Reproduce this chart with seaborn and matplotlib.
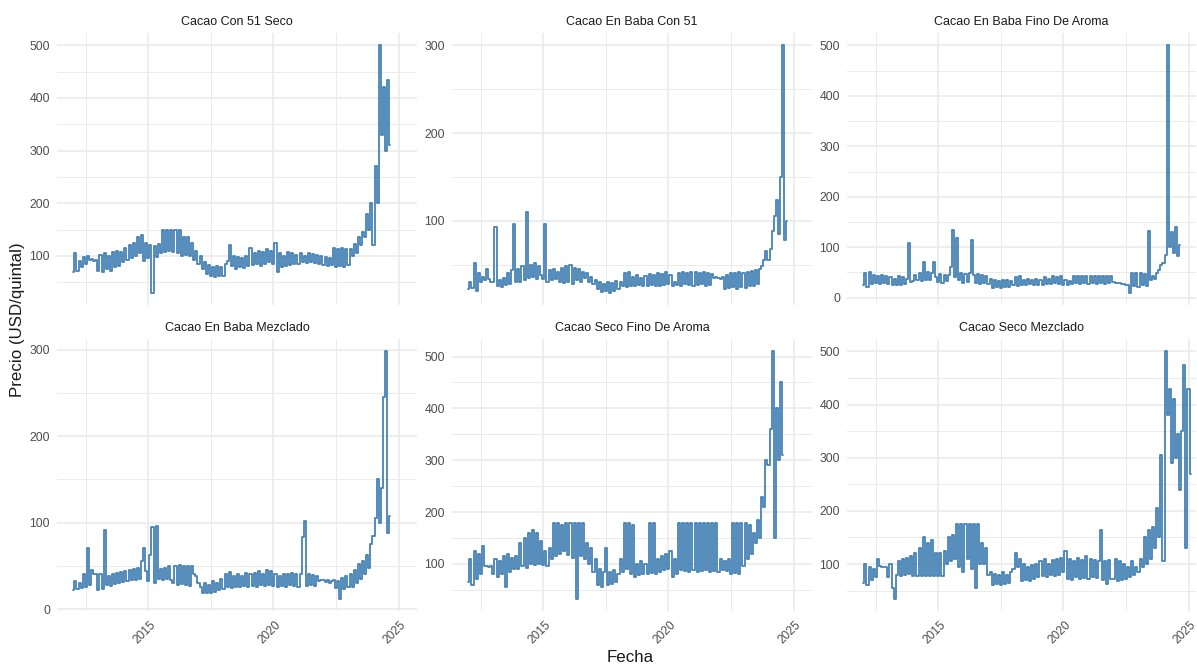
import numpy as np
import pandas as pd
import matplotlib
matplotlib.use("Agg")
import matplotlib.pyplot as plt
import matplotlib.dates as mdates
import matplotlib.transforms as mtransforms
from matplotlib.ticker import MultipleLocator, FixedLocator
import seaborn as sns

# ---------------- data (monthly values, starting January 2012) ----------------
categories = [
    "Cacao Con 51 Seco",
    "Cacao En Baba Con 51",
    "Cacao En Baba Fino De Aroma",
    "Cacao En Baba Mezclado",
    "Cacao Seco Fino De Aroma",
    "Cacao Seco Mezclado",
]
start_date = "2012-01-01"

con51_seco = [
    70, 105, 72, 90, 78, 98, 85, 100, 92, 94, 90, 92,
    72, 102, 70, 105, 75, 100, 72, 108, 78, 110, 80, 108,
    88, 115, 92, 120, 95, 125, 100, 135, 105, 140, 90, 125,
    95, 120, 30, 118, 98, 122, 105, 150, 108, 150, 110, 150,
    108, 150, 105, 150, 100, 135, 102, 135, 100, 125, 92, 110,
    85, 100, 75, 88, 65, 82, 62, 78, 60, 80, 62, 78,
    62, 85, 90, 120, 80, 100, 75, 98, 78, 95, 76, 100,
    80, 115, 82, 105, 85, 110, 80, 108, 85, 112, 88, 110,
    85, 125, 70, 105, 78, 100, 80, 108, 82, 105, 85, 102,
    85, 105, 88, 100, 86, 106, 88, 104, 87, 102, 85, 100,
    82, 98, 80, 95, 82, 115, 78, 112, 80, 115, 78, 112,
    82, 112, 100, 122, 105, 135, 120, 145, 135, 180, 150, 200,
    120, 270, 200, 500, 330, 420, 300, 435, 310,
]

en_baba_con51 = [
    22, 30, 23, 52, 20, 40, 30, 36, 32, 45, 33, 30,
    30, 93, 25, 32, 24, 35, 27, 40, 28, 44, 96, 30,
    45, 30, 48, 32, 110, 35, 50, 36, 52, 34, 48, 38,
    33, 96, 30, 44, 32, 45, 33, 42, 30, 46, 29, 48,
    30, 50, 28, 46, 32, 45, 30, 42, 35, 40, 30, 36,
    28, 32, 22, 30, 19, 28, 20, 30, 18, 29, 20, 31,
    22, 30, 25, 40, 24, 42, 26, 36, 25, 38, 27, 35,
    26, 37, 25, 39, 27, 38, 26, 40, 25, 39, 27, 41,
    28, 38, 25, 30, 27, 40, 26, 41, 28, 40, 27, 42,
    26, 41, 27, 40, 28, 41, 26, 40, 27, 39, 35, 36,
    35, 34, 36, 22, 38, 23, 40, 24, 40, 22, 41, 24,
    40, 23, 42, 25, 43, 26, 44, 28, 45, 48, 55, 65,
    55, 68, 88, 105, 124, 85, 150, 300, 78, 100,
]

en_baba_fino = [
    25, 48, 22, 50, 28, 45, 30, 43, 28, 44, 30, 42,
    28, 40, 25, 38, 26, 42, 25, 40, 28, 38, 108, 32,
    33, 45, 35, 48, 33, 70, 36, 50, 35, 48, 70, 40,
    32, 46, 30, 44, 33, 45, 60, 135, 40, 118, 35, 48,
    30, 46, 32, 48, 115, 45, 30, 46, 28, 44, 30, 42,
    28, 38, 20, 35, 22, 34, 20, 36, 21, 35, 22, 34,
    25, 40, 24, 42, 26, 36, 25, 38, 27, 35, 25, 37,
    26, 36, 25, 40, 27, 38, 28, 42, 29, 40, 28, 42,
    25, 35, 26, 34, 28, 42, 29, 43, 28, 42, 29, 43,
    28, 42, 29, 43, 28, 42, 29, 43, 28, 42, 29, 42,
    32, 30, 30, 29, 28, 27, 26, 25, 10, 48, 24, 48,
    22, 48, 25, 47, 24, 133, 35, 42, 38, 48, 55, 65,
    68, 85, 500, 100, 130, 88, 140, 82, 105,
]

en_baba_mezclado = [
    22, 32, 23, 30, 24, 40, 26, 70, 28, 45, 40, 40,
    22, 40, 23, 91, 28, 38, 27, 40, 29, 42, 30, 43,
    31, 44, 32, 45, 33, 46, 34, 48, 35, 55, 70, 44,
    32, 62, 95, 30, 96, 35, 46, 33, 48, 35, 50, 34,
    30, 50, 28, 51, 29, 50, 28, 50, 27, 50, 40, 38,
    30, 25, 18, 30, 19, 28, 18, 32, 20, 30, 22, 35,
    23, 40, 25, 43, 24, 38, 26, 40, 25, 38, 27, 42,
    26, 40, 27, 42, 26, 44, 28, 40, 27, 45, 28, 44,
    27, 40, 26, 38, 27, 41, 26, 40, 28, 42, 27, 41,
    26, 40, 83, 102, 27, 40, 28, 39, 27, 38, 32, 34,
    33, 31, 34, 30, 32, 33, 24, 32, 12, 36, 23, 38,
    25, 40, 26, 45, 30, 52, 35, 55, 40, 62, 48, 75,
    85, 105, 150, 100, 140, 245, 298, 88, 108,
]

seco_fino = [
    65, 110, 60, 125, 70, 120, 80, 135, 95, 96, 94, 95,
    80, 110, 75, 105, 80, 115, 55, 120, 85, 112, 90, 115,
    90, 140, 95, 150, 92, 160, 100, 165, 98, 160, 100, 145,
    98, 125, 95, 130, 110, 178, 115, 178, 120, 175, 125, 178,
    118, 178, 112, 178, 33, 178, 115, 178, 110, 140, 100, 130,
    85, 110, 60, 90, 55, 85, 130, 60, 85, 62, 88, 65,
    80, 110, 85, 178, 90, 178, 80, 175, 75, 100, 78, 105,
    80, 100, 80, 178, 82, 178, 80, 110, 85, 115, 88, 120,
    90, 125, 75, 110, 80, 178, 88, 178, 86, 178, 85, 178,
    88, 178, 85, 178, 86, 178, 88, 178, 85, 178, 87, 178,
    85, 110, 88, 105, 86, 110, 80, 178, 82, 178, 80, 178,
    95, 178, 110, 175, 120, 160, 140, 185, 150, 230, 210, 300,
    290, 360, 510, 150, 400, 300, 450, 310,
]

seco_mezclado = [
    65, 100, 60, 95, 70, 90, 75, 110, 96, 95, 94, 95,
    75, 100, 55, 35, 80, 105, 78, 110, 80, 112, 82, 115,
    78, 120, 78, 130, 78, 150, 78, 140, 78, 145, 78, 120,
    78, 120, 78, 125, 100, 150, 105, 155, 110, 175, 95, 175,
    85, 175, 110, 175, 90, 175, 55, 175, 100, 140, 100, 130,
    80, 85, 60, 82, 62, 80, 60, 85, 62, 80, 65, 85,
    90, 120, 95, 110, 68, 100, 70, 95, 68, 98, 72, 100,
    75, 105, 78, 110, 76, 100, 80, 108, 78, 110, 80, 112,
    85, 125, 72, 110, 70, 105, 75, 112, 72, 108, 74, 115,
    72, 110, 75, 108, 73, 106, 165, 70, 105, 62, 108, 72,
    72, 110, 68, 105, 70, 100, 72, 95, 75, 105, 80, 95,
    85, 110, 95, 150, 100, 165, 110, 170, 130, 205, 150, 305,
    105, 500, 380, 430, 290, 410, 300, 345, 240, 350, 475, 130,
    430, 270,
]

series = [con51_seco, en_baba_con51, en_baba_fino,
          en_baba_mezclado, seco_fino, seco_mezclado]

frames = []
for name, vals in zip(categories, series):
    frames.append(pd.DataFrame({
        "producto": name,
        "fecha": pd.date_range(start_date, periods=len(vals), freq="MS"),
        "precio": vals,
    }))
df = pd.concat(frames, ignore_index=True)

# ---------------- style ----------------
sns.set_style("white")
plt.rcParams["font.family"] = ["Liberation Sans", "DejaVu Sans"]

LINE = "#4682B4"
GRID = "#EBEBEB"
TICK = "#4D4D4D"

W, H = 1197, 667
fig = plt.figure(figsize=(W / 100, H / 100), dpi=100)

col_left = [57, 452, 847]
col_width = [360, 360, 349]
row_top = [33, 339]
row_h = 272

dmin = mdates.date2num(df["fecha"].min())
dmax = mdates.date2num(df["fecha"].max())
span = dmax - dmin
xl = dmin - 0.05 * span
xr = dmax + 0.05 * span
per_px = (xr - xl) / 360.0

minor_dates = [mdates.date2num(pd.Timestamp(d)) for d in
               ["2012-07-02", "2017-07-02", "2022-07-02"]]
label_shift = mtransforms.ScaledTranslation(-4 / 100, 0, fig.dpi_scale_trans)

for i, name in enumerate(categories):
    r, c = divmod(i, 3)
    left, width = col_left[c], col_width[c]
    top = row_top[r]
    ax = fig.add_axes([left / W, 1 - (top + row_h) / H, width / W, row_h / H])
    sub = df[df["producto"] == name]
    sns.lineplot(data=sub, x="fecha", y="precio", ax=ax, color=LINE,
                 linewidth=1.3, estimator=None, drawstyle="steps-mid")
    ax.set_xlim(xl, xl + per_px * width)
    ax.xaxis.set_major_locator(mdates.YearLocator(5))
    ax.xaxis.set_major_formatter(mdates.DateFormatter("%Y"))
    ax.xaxis.set_minor_locator(FixedLocator(minor_dates))
    ax.yaxis.set_major_locator(MultipleLocator(100))
    ax.yaxis.set_minor_locator(MultipleLocator(50))
    ax.grid(which="major", color=GRID, linewidth=1.2)
    ax.grid(which="minor", color=GRID, linewidth=0.7)
    ax.set_axisbelow(True)
    for s in ax.spines.values():
        s.set_visible(False)
    ax.tick_params(which="both", length=0)
    ax.tick_params(axis="y", labelsize=8.8, labelcolor=TICK, pad=5)
    if r == 0:
        ax.tick_params(axis="x", labelbottom=False)
    else:
        ax.tick_params(axis="x", labelsize=8.6, labelcolor=TICK,
                       labelrotation=45, pad=6)
        for lbl in ax.get_xticklabels():
            lbl.set_transform(lbl.get_transform() + label_shift)
    ax.set_xlabel("")
    ax.set_ylabel("")
    ax.set_title(name, fontsize=9, color="#1A1A1A", pad=6)

fig.text(18 / W, 1 - 320 / H, "Precio (USD/quintal)", rotation=90,
         ha="center", va="center", fontsize=12.2, color="#1A1A1A")
fig.text(630 / W, 1 - 657 / H, "Fecha", ha="center", va="center",
         fontsize=12.2, color="#1A1A1A")

fig.savefig("out.png", dpi=100)
